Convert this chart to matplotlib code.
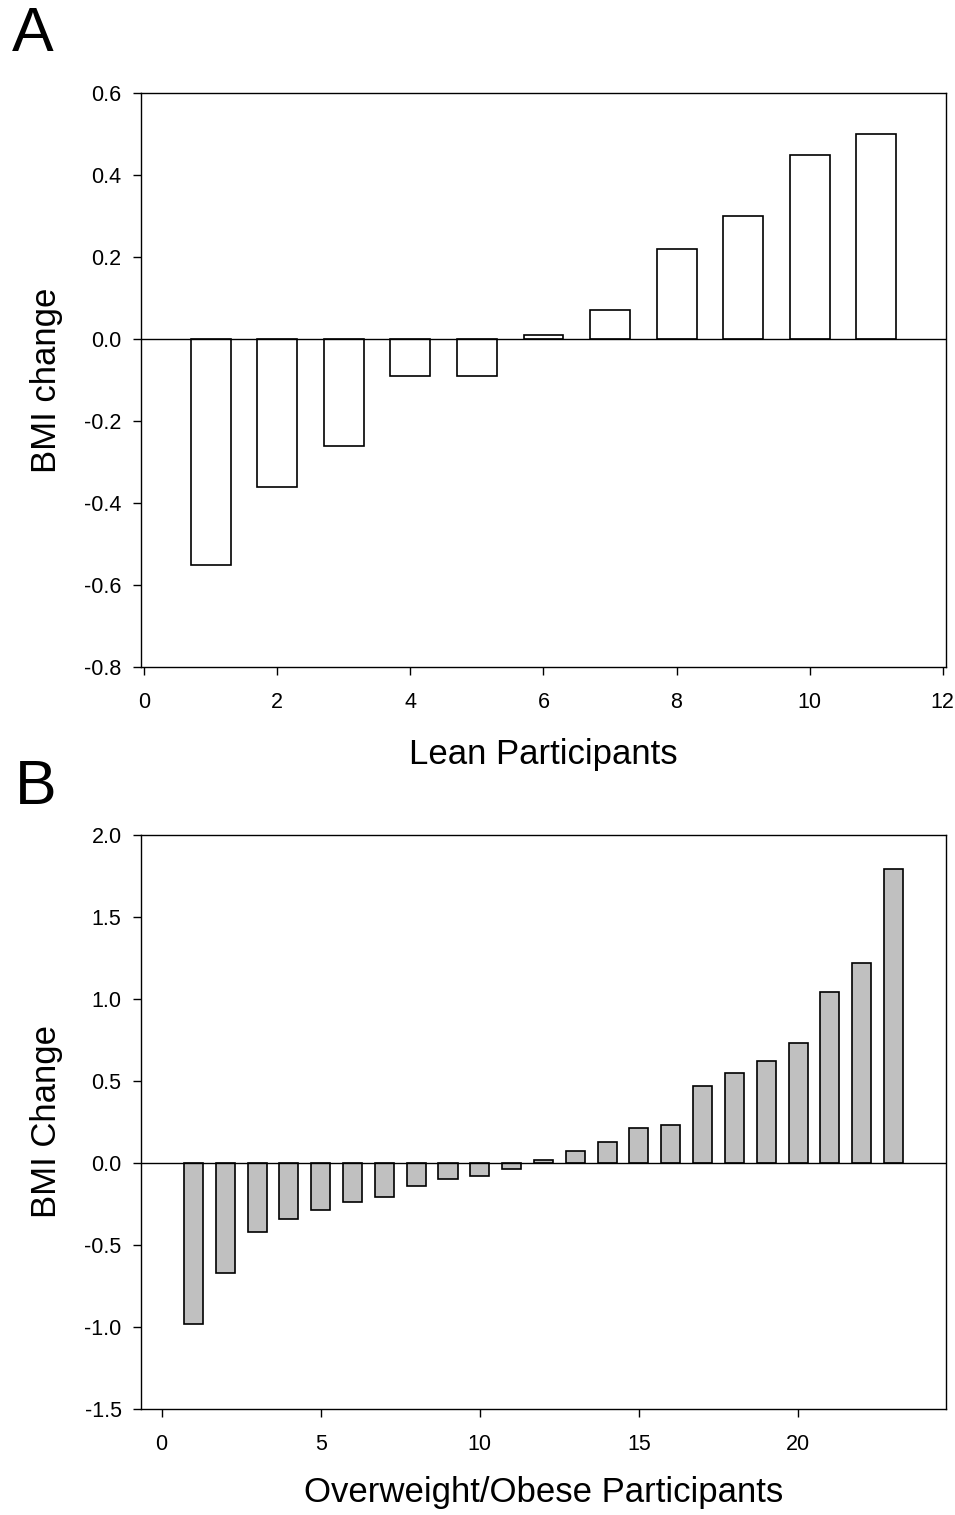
import numpy as np
import matplotlib.pyplot as plt

plt.rcParams['font.family'] = ['Liberation Sans', 'DejaVu Sans']

# BMI change per participant, sorted
lean_change = [-0.55, -0.36, -0.26, -0.09, -0.09, 0.01, 0.07, 0.22, 0.30, 0.45, 0.50]
obese_change = [-0.98, -0.67, -0.42, -0.34, -0.29, -0.24, -0.21, -0.14, -0.10, -0.08,
                -0.04, 0.02, 0.07, 0.13, 0.21, 0.23, 0.47, 0.55, 0.62, 0.73,
                1.04, 1.22, 1.79]

lean_ticks = [0, 2, 4, 6, 8, 10, 12]
lean_yticks = [-0.8, -0.6, -0.4, -0.2, 0.0, 0.2, 0.4, 0.6]
obese_ticks = [0, 5, 10, 15, 20]
obese_yticks = [-1.5, -1.0, -0.5, 0.0, 0.5, 1.0, 1.5, 2.0]

fig = plt.figure(figsize=(9.55, 15.15), dpi=100)
ax1 = fig.add_axes([0.1476, 0.5597, 0.843, 0.3789])
ax2 = fig.add_axes([0.1476, 0.0700, 0.843, 0.3789])


def style(ax):
    for s in ax.spines.values():
        s.set_linewidth(1.0)
    ax.tick_params(direction='out', length=6, width=1.0, labelsize=15.5,
                   top=False, right=False)
    ax.tick_params(axis='x', pad=12)
    ax.tick_params(axis='y', pad=8)
    ax.axhline(0, color='black', lw=1.0, zorder=3)


# ----- A: lean -----
x1 = np.arange(1, len(lean_change) + 1)
ax1.bar(x1, lean_change, width=0.6, color='white', edgecolor='black', lw=1.2, zorder=2)
ax1.set_xlim(-0.05, 12.05)
ax1.set_ylim(-0.8, 0.6)
ax1.set_xticks(lean_ticks)
ax1.set_yticks(lean_yticks)
ax1.set_yticklabels([f'{v:.1f}' for v in lean_yticks])
ax1.set_xlabel('Lean Participants', fontsize=25, labelpad=18)
ax1.set_ylabel('BMI change', fontsize=25, labelpad=15)
style(ax1)

# ----- B: overweight/obese -----
x2 = np.arange(1, len(obese_change) + 1)
ax2.bar(x2, obese_change, width=0.6, color='#c0c0c0', edgecolor='black', lw=1.2, zorder=2)
ax2.set_xlim(-0.65, 24.65)
ax2.set_ylim(-1.5, 2.0)
ax2.set_xticks(obese_ticks)
ax2.set_yticks(obese_yticks)
ax2.set_yticklabels([f'{v:.1f}' for v in obese_yticks])
ax2.set_xlabel('Overweight/Obese Participants', fontsize=25, labelpad=15)
ax2.set_ylabel('BMI Change', fontsize=25, labelpad=15)
style(ax2)

fig.text(0.012, 0.958, 'A', fontsize=45, ha='left', va='bottom')
fig.text(0.016, 0.461, 'B', fontsize=45, ha='left', va='bottom')

plt.savefig('out.png', dpi=100)
